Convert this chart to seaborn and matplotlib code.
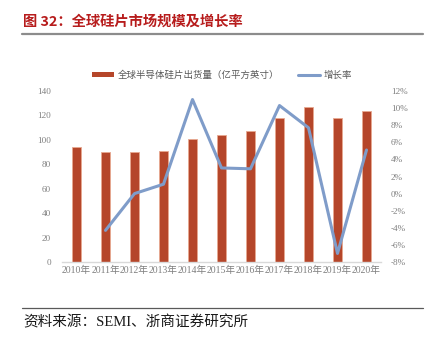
import numpy as np
import pandas as pd
import matplotlib
matplotlib.use("Agg")
import matplotlib.pyplot as plt
import seaborn as sns
from matplotlib.patches import Patch
from matplotlib.lines import Line2D
from matplotlib.ticker import FuncFormatter

years = ["2010年", "2011年", "2012年", "2013年", "2014年", "2015年",
         "2016年", "2017年", "2018年", "2019年", "2020年"]
shipments = [94, 90, 90, 91, 101, 104, 107, 118, 127, 118, 124]
growth_years = years[1:]
growth = [-4.3, 0.0, 1.1, 11.0, 3.0, 2.9, 10.3, 7.7, -7.0, 5.1]

title = "图 32：全球硅片市场规模及增长率"
bar_label = "全球半导体硅片出货量（亿平方英寸）"
line_label = "增长率"
source = "资料来源：SEMI、浙商证券研究所"

sns.set_theme(style="white")
plt.rcParams['font.family'] = ['Liberation Serif', 'Noto Sans CJK SC', 'DejaVu Sans']
plt.rcParams['axes.unicode_minus'] = False

bar_color = "#B5462A"
line_color = "#7F9CC9"
tick_color = "#7F7F7F"

fig = plt.figure(figsize=(4.36, 3.40), dpi=100)
ax = fig.add_axes([62/436, 1-262/340, (381-62)/436, (262-91)/340])

df = pd.DataFrame({"year": years, "value": shipments})
sns.barplot(data=df, x="year", y="value", ax=ax, color=bar_color,
            width=0.32, edgecolor="#E8A890", linewidth=0.6, saturation=1)
ax.set_ylim(0, 140)
ax.set_yticks(range(0, 141, 20))
ax.set_xlim(-0.5, 10.5)
ax.set_xlabel("")
ax.set_ylabel("")
for s in ["top", "right", "left"]:
    ax.spines[s].set_visible(False)
ax.spines["bottom"].set_color("#D9D9D9")
ax.spines["bottom"].set_linewidth(1.0)
ax.tick_params(axis="y", length=0, colors=tick_color, labelsize=6.6, pad=8)
ax.tick_params(axis="x", length=0, colors=tick_color, labelsize=7, pad=3)

ax2 = ax.twinx()
gdf = pd.DataFrame({"x": [years.index(y) for y in growth_years], "g": growth})
sns.lineplot(data=gdf, x="x", y="g", ax=ax2, color=line_color, linewidth=2.2)
ax2.set_ylim(-8, 12)
ax2.set_yticks(range(-8, 13, 2))
ax2.yaxis.set_major_formatter(FuncFormatter(lambda v, p: f"{int(v)}%"))
ax2.set_xlim(-0.5, 10.5)
ax2.set_ylabel("")
ax2.set_xlabel("")
for s in ax2.spines.values():
    s.set_visible(False)
ax2.tick_params(axis="y", length=0, colors=tick_color, labelsize=6.6, pad=7)

handles = [Patch(facecolor=bar_color, edgecolor="none"),
           Line2D([0], [0], color=line_color, linewidth=2.2)]
fig.legend(handles, [bar_label, line_label], loc="center", ncol=2,
           bbox_to_anchor=(222/436, 1-75/340), frameon=False,
           prop={"family": ["Noto Sans CJK SC"], "size": 6.8},
           labelcolor="#595959", handlelength=2.3, handleheight=0.55,
           columnspacing=2.0, handletextpad=0.4)

fig.text(23/436, 1-22/340, title, fontsize=10.3, fontweight="bold",
         color="#B71C1C", va="center", ha="left", family=["Noto Sans CJK SC"])
fig.add_artist(Line2D([22/436, 423/436], [1-34/340, 1-34/340],
                      color="#8C8C8C", linewidth=1.6))
fig.add_artist(Line2D([22/436, 423/436], [1-308/340, 1-308/340],
                      color="#595959", linewidth=0.9))
fig.text(23/436, 1-322/340, source, fontsize=10.5, color="#1A1A1A",
         va="center", ha="left", family=["Liberation Serif", "Noto Sans CJK SC"])

fig.savefig("out.png", dpi=100)
